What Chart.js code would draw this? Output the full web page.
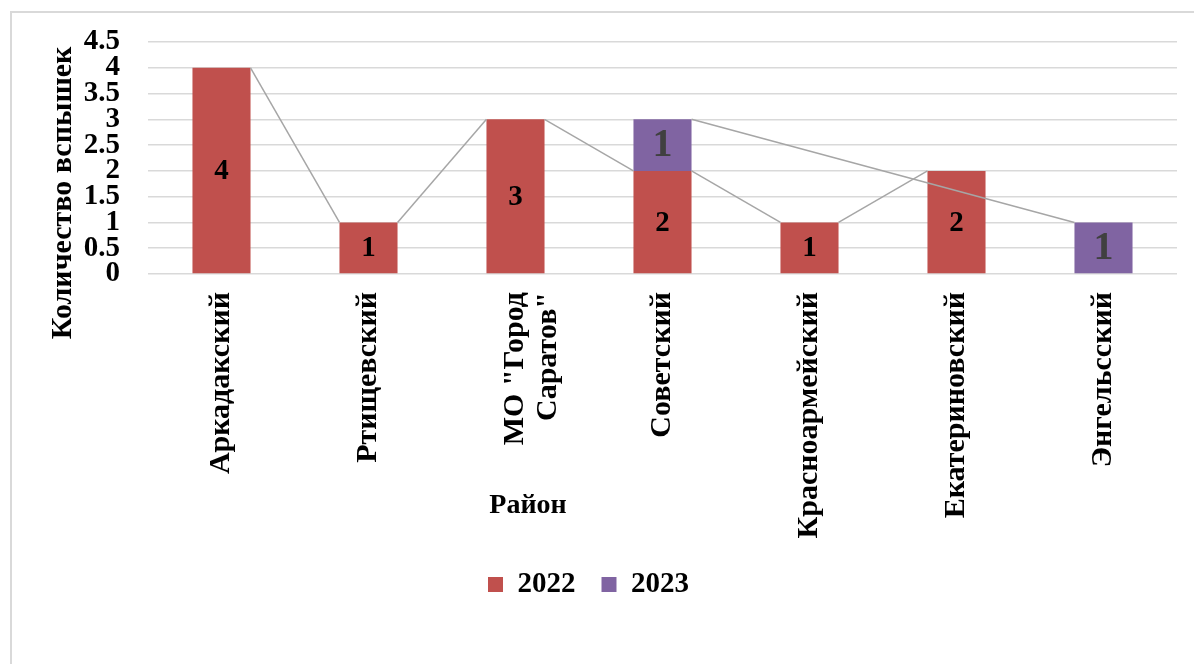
<!DOCTYPE html>
<html lang="ru">
<head>
<meta charset="utf-8">
<title>Количество вспышек по районам</title>
<script src="https://cdn.jsdelivr.net/npm/chart.js@4/dist/chart.umd.min.js"></script>
<style>
    html, body { margin: 0; padding: 0; background: #fff; }
    #wrap { position: relative; width: 1194px; height: 664px; }
</style>
</head>
<body>
<div id="wrap"><canvas id="outbreakChart" width="1194" height="664"></canvas></div>
<script>
// --------------------
// Data
// --------------------
const districts = [
    'Аркадакский',
    'Ртищевский',
    ['МО "Город', 'Саратов"'],
    'Советский',
    'Красноармейский',
    'Екатериновский',
    'Энгельсский'
];
const outbreaks2022 = [4, 1, 3, 2, 1, 2, null];
const outbreaks2023 = [null, null, null, 1, null, null, 1];
const yMin = 0;
const yMax = 4.5;
const yStep = 0.5;

const FONT = '"Liberation Serif", "Times New Roman", serif';

// Frame + axis titles, drawn where Excel put them
const decorPlugin = {
    id: 'decor',
    beforeDraw(chart) {
        const ctx = chart.ctx;
        ctx.save();
        ctx.strokeStyle = '#d9d9d9';
        ctx.lineWidth = 2;
        ctx.beginPath();
        ctx.moveTo(11, chart.height);
        ctx.lineTo(11, 12);
        ctx.lineTo(chart.width, 12);
        ctx.stroke();
        ctx.restore();
    },
    afterDraw(chart) {
        const ctx = chart.ctx;
        const area = chart.chartArea;
        ctx.save();
        ctx.fillStyle = '#000';
        ctx.textAlign = 'center';
        ctx.textBaseline = 'middle';
        // x title "Район"
        ctx.font = `bold 28px ${FONT}`;
        ctx.fillText('Район', area.left + 380, 506);
        // y title
        ctx.font = `bold 30px ${FONT}`;
        ctx.translate(63, 193);
        ctx.rotate(-Math.PI / 2);
        ctx.fillText('Количество вспышек', 0, 0);
        ctx.restore();
    }
};

// Excel-style series lines between adjacent stacks
const seriesLinesPlugin = {
    id: 'seriesLines',
    afterDatasetsDraw(chart) {
        const ctx = chart.ctx;
        ctx.save();
        ctx.strokeStyle = '#a6a6a6';
        ctx.lineWidth = 1.5;
        chart.data.datasets.forEach((ds, di) => {
            const meta = chart.getDatasetMeta(di);
            let prev = null;
            ds.data.forEach((v, i) => {
                if (v === null) return;
                const bar = meta.data[i];
                if (prev) {
                    ctx.beginPath();
                    ctx.moveTo(prev.x + prev.width / 2, prev.y);
                    ctx.lineTo(bar.x - bar.width / 2, bar.y);
                    ctx.stroke();
                }
                prev = bar;
            });
        });
        ctx.restore();
    }
};

// Value labels in the middle of each segment
const valueLabelsPlugin = {
    id: 'valueLabels',
    afterDatasetsDraw(chart) {
        const ctx = chart.ctx;
        ctx.save();
        ctx.textAlign = 'center';
        ctx.textBaseline = 'middle';
        chart.data.datasets.forEach((ds, di) => {
            const meta = chart.getDatasetMeta(di);
            ds.data.forEach((v, i) => {
                if (v === null) return;
                const bar = meta.data[i];
                ctx.font = ds.labelFont;
                ctx.fillStyle = ds.labelColor;
                ctx.fillText(String(v), bar.x, (bar.y + bar.base) / 2 + 1);
            });
        });
        ctx.restore();
    }
};

new Chart(document.getElementById('outbreakChart'), {
    type: 'bar',
    data: {
        labels: districts,
        datasets: [
            {
                label: '2022',
                data: outbreaks2022,
                backgroundColor: '#c0504d',
                labelFont: `bold 29px ${FONT}`,
                labelColor: '#000',
                categoryPercentage: 1,
                barPercentage: 0.395
            },
            {
                label: '2023',
                data: outbreaks2023,
                backgroundColor: '#8064a2',
                labelFont: `bold 40px ${FONT}`,
                labelColor: '#404040',
                categoryPercentage: 1,
                barPercentage: 0.395
            }
        ]
    },
    options: {
        responsive: false,
        animation: false,
        layout: { padding: { top: 42, right: 17, bottom: 55, left: 0 } },
        plugins: {
            legend: {
                position: 'bottom',
                labels: {
                    color: '#000',
                    font: { family: FONT, size: 29, weight: 'bold' },
                    boxWidth: 15,
                    boxHeight: 15,
                    padding: 26
                }
            },
            tooltip: { enabled: false }
        },
        scales: {
            x: {
                stacked: true,
                grid: { display: false, drawTicks: false },
                border: { display: false },
                ticks: {
                    color: '#000',
                    font: { family: FONT, size: 30, weight: 'bold', lineHeight: 1.1 },
                    minRotation: 90,
                    maxRotation: 90,
                    padding: 18,
                    autoSkip: false
                },
                afterFit(scale) { scale.height = 270; }
            },
            y: {
                stacked: true,
                min: yMin,
                max: yMax,
                grid: { color: '#d9d9d9', lineWidth: 1.5, drawTicks: false },
                border: { display: false },
                ticks: {
                    stepSize: yStep,
                    autoSkip: false,
                    callback: v => String(Number(v)),
                    color: '#000',
                    font: { family: FONT, size: 29, weight: 'bold' },
                    padding: 28
                },
                afterFit(scale) {
                    scale.width = 148;
                    scale.paddingTop = 0;
                    scale.paddingBottom = 0;
                }
            }
        }
    },
    plugins: [decorPlugin, seriesLinesPlugin, valueLabelsPlugin]
});
</script>
</body>
</html>
